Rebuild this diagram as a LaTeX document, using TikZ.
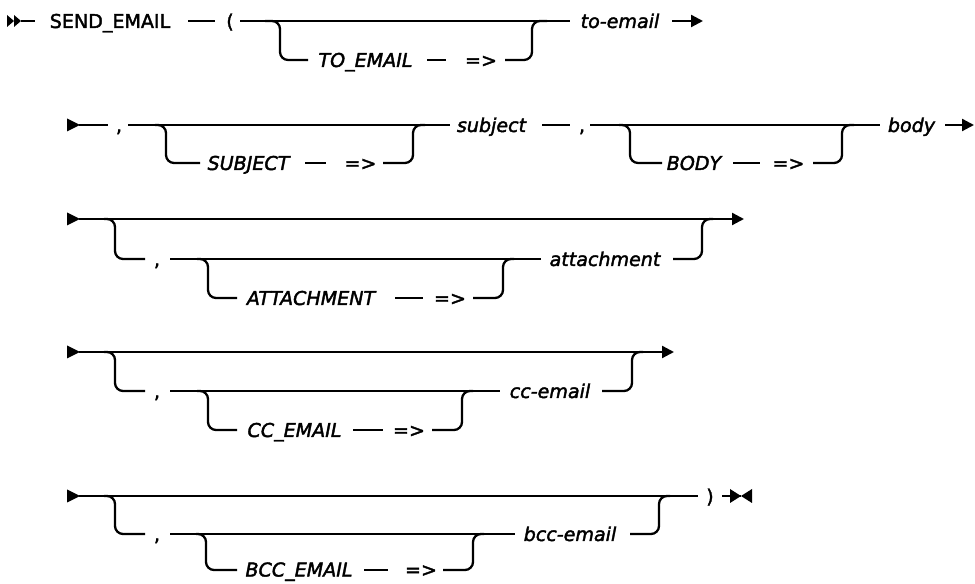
\documentclass[tikz,border=0pt]{standalone}
\usepackage{fontspec}
\setmainfont{DejaVu Sans}[FakeBold=2]
\usetikzlibrary{arrows.meta}
\begin{document}
\begin{tikzpicture}[x=0.75pt,y=-0.75pt,line width=1.7pt,
  font=\fontsize{14.3pt}{17pt}\selectfont,
  tx/.style={anchor=base,inner sep=0pt},
  kw/.style={tx,font=\fontsize{14.3pt}{17pt}\selectfont\itshape},
  br/.style={rounded corners=6pt},
  endarrow/.style={-{Triangle[length=9pt,width=9pt]}}]
\useasboundingbox (0,0) rectangle (975,584);

% ---------------- Row 1 ----------------
\coordinate (r1s) at (7,21);
\coordinate (r1a) at (21,21);   \coordinate (r1b) at (35,21);
\coordinate (r1c) at (188,21);  \coordinate (r1d) at (215,21);
\coordinate (r1e) at (240,21);  \coordinate (r1f) at (570,21);
\coordinate (r1g) at (265,21);  \coordinate (r1h) at (280,21);
\coordinate (r1i) at (280,60);  \coordinate (r1j) at (308,60);
\coordinate (r1k) at (427,60);  \coordinate (r1l) at (446,60);
\coordinate (r1m) at (505,60);  \coordinate (r1n) at (532,60);
\coordinate (r1o) at (532,21);  \coordinate (r1p) at (547,21);
\coordinate (r1q) at (672,21);  \coordinate (r1r) at (703,21);

\fill (r1s) ++(0,-6) -- ++(7,6) -- ++(-7,6) -- cycle;
\fill (r1s) ++(7,-6) -- ++(7,6) -- ++(-7,6) -- cycle;
\draw (r1a) -- (r1b);
\node[tx] (send) at (110,28) {SEND\_EMAIL};
\draw (r1c) -- (r1d);
\node[tx] (lp) at (230,28) {(};
\draw (r1e) -- (r1f);
\draw[br] (r1g) -- (r1h) -- (r1i) -- (r1j);
\node[kw] (toE) at (365.5,67) {TO\_EMAIL};
\draw (r1k) -- (r1l);
\node[tx] (ar1) at (481,67) {=>};
\draw[br] (r1m) -- (r1n) -- (r1o) -- (r1p);
\node[kw] (toemail) at (620,28) {to-email};
\draw[endarrow] (r1q) -- (r1r);

% ---------------- Row 2 ----------------
\coordinate (r2s) at (67,125);
\coordinate (r2a) at (79,125);  \coordinate (r2b) at (108,125);
\coordinate (r2c) at (128,125); \coordinate (r2d) at (450,125);
\coordinate (r2e) at (155,125); \coordinate (r2f) at (166,125);
\coordinate (r2g) at (166,163); \coordinate (r2h) at (200,163);
\coordinate (r2i) at (305,163); \coordinate (r2j) at (326,163);
\coordinate (r2k) at (383,163); \coordinate (r2l) at (413,163);
\coordinate (r2m) at (413,125); \coordinate (r2n) at (425,125);
\coordinate (r2o) at (542,125); \coordinate (r2p) at (570,125);
\coordinate (r2q) at (590,125); \coordinate (r2r) at (880,125);
\coordinate (r2t) at (619,125); \coordinate (r2u) at (630,125);
\coordinate (r2v) at (630,163); \coordinate (r2w) at (662,163);
\coordinate (r2x) at (733,163); \coordinate (r2y) at (760,163);
\coordinate (r2z) at (813,163); \coordinate (r2A) at (842,163);
\coordinate (r2B) at (842,125); \coordinate (r2C) at (854,125);
\coordinate (r2D) at (945,125); \coordinate (r2E) at (974,125);

\fill (r2s) ++(0,-6.5) -- ++(13,6.5) -- ++(-13,6.5) -- cycle;
\draw (r2a) -- (r2b);
\node[tx] (c2a) at (119,132) {,};
\draw (r2c) -- (r2d);
\draw[br] (r2e) -- (r2f) -- (r2g) -- (r2h);
\node[kw] (subK) at (248.5,170) {SUBJECT};
\draw (r2i) -- (r2j);
\node[tx] (ar2a) at (360.5,170) {=>};
\draw[br] (r2k) -- (r2l) -- (r2m) -- (r2n);
\node[kw] (subj) at (491.5,132) {subject};
\draw (r2o) -- (r2p);
\node[tx] (c2b) at (582,132) {,};
\draw (r2q) -- (r2r);
\draw[br] (r2t) -- (r2u) -- (r2v) -- (r2w);
\node[kw] (bodyK) at (694,170) {BODY};
\draw (r2x) -- (r2y);
\node[tx] (ar2b) at (788.5,170) {=>};
\draw[br] (r2z) -- (r2A) -- (r2B) -- (r2C);
\node[kw] (body) at (911.5,132) {body};
\draw[endarrow] (r2D) -- (r2E);

% ---------------- Row 3 ----------------
\coordinate (r3s) at (67,219);
\coordinate (r3a) at (79,219);  \coordinate (r3b) at (744,219);
\coordinate (r3c) at (104,219); \coordinate (r3d) at (115,219);
\coordinate (r3e) at (115,259); \coordinate (r3f) at (145,259);
\coordinate (r3g) at (170,259); \coordinate (r3h) at (541,259);
\coordinate (r3i) at (197,259); \coordinate (r3j) at (208,259);
\coordinate (r3k) at (208,298); \coordinate (r3l) at (237,298);
\coordinate (r3m) at (395,298); \coordinate (r3n) at (423,298);
\coordinate (r3o) at (473,298); \coordinate (r3p) at (503,298);
\coordinate (r3q) at (503,259); \coordinate (r3r) at (514,259);
\coordinate (r3t) at (673,259); \coordinate (r3u) at (702,259);
\coordinate (r3v) at (702,219); \coordinate (r3w) at (713,219);

\fill (r3s) ++(0,-6.5) -- ++(13,6.5) -- ++(-13,6.5) -- cycle;
\draw[endarrow] (r3a) -- (r3b);
\draw[br] (r3c) -- (r3d) -- (r3e) -- (r3f);
\node[tx] (c3) at (157,266) {,};
\draw (r3g) -- (r3h);
\draw[br] (r3i) -- (r3j) -- (r3k) -- (r3l);
\node[kw] (attK) at (311,305) {ATTACHMENT};
\draw (r3m) -- (r3n);
\node[tx] (ar3) at (450,305) {=>};
\draw[br] (r3o) -- (r3p) -- (r3q) -- (r3r);
\node[kw] (att) at (605,266) {attachment};
\draw[br] (r3t) -- (r3u) -- (r3v) -- (r3w);

% ---------------- Row 4 ----------------
\coordinate (r4s) at (67,352);
\coordinate (r4a) at (79,352);  \coordinate (r4b) at (674,352);
\coordinate (r4c) at (104,352); \coordinate (r4d) at (115,352);
\coordinate (r4e) at (115,391); \coordinate (r4f) at (145,391);
\coordinate (r4g) at (170,391); \coordinate (r4h) at (500,391);
\coordinate (r4i) at (197,391); \coordinate (r4j) at (208,391);
\coordinate (r4k) at (208,430); \coordinate (r4l) at (237,430);
\coordinate (r4m) at (353,430); \coordinate (r4n) at (383,430);
\coordinate (r4o) at (432,430); \coordinate (r4p) at (462,430);
\coordinate (r4q) at (462,391); \coordinate (r4r) at (473,391);
\coordinate (r4t) at (602,391); \coordinate (r4u) at (632,391);
\coordinate (r4v) at (632,352); \coordinate (r4w) at (643,352);

\fill (r4s) ++(0,-6.5) -- ++(13,6.5) -- ++(-13,6.5) -- cycle;
\draw[endarrow] (r4a) -- (r4b);
\draw[br] (r4c) -- (r4d) -- (r4e) -- (r4f);
\node[tx] (c4) at (157,398) {,};
\draw (r4g) -- (r4h);
\draw[br] (r4i) -- (r4j) -- (r4k) -- (r4l);
\node[kw] (ccK) at (294.5,437) {CC\_EMAIL};
\draw (r4m) -- (r4n);
\node[tx] (ar4) at (409,437) {=>};
\draw[br] (r4o) -- (r4p) -- (r4q) -- (r4r);
\node[kw] (cc) at (550,398) {cc-email};
\draw[br] (r4t) -- (r4u) -- (r4v) -- (r4w);

% ---------------- Row 5 ----------------
\coordinate (r5s) at (67,496);
\coordinate (r5a) at (79,496);  \coordinate (r5b) at (698,496);
\coordinate (r5c) at (104,496); \coordinate (r5d) at (115,496);
\coordinate (r5e) at (115,534); \coordinate (r5f) at (145,534);
\coordinate (r5g) at (170,534); \coordinate (r5h) at (515,534);
\coordinate (r5i) at (196,534); \coordinate (r5j) at (206,534);
\coordinate (r5k) at (206,570); \coordinate (r5l) at (237,570);
\coordinate (r5m) at (364,570); \coordinate (r5n) at (388,570);
\coordinate (r5o) at (443,570); \coordinate (r5p) at (473,570);
\coordinate (r5q) at (473,534); \coordinate (r5r) at (484,534);
\coordinate (r5t) at (630,534); \coordinate (r5u) at (659,534);
\coordinate (r5v) at (659,496); \coordinate (r5w) at (670,496);
\coordinate (r5x) at (722,496); \coordinate (r5y) at (741,496);

\fill (r5s) ++(0,-6.5) -- ++(13,6.5) -- ++(-13,6.5) -- cycle;
\draw (r5a) -- (r5b);
\draw[br] (r5c) -- (r5d) -- (r5e) -- (r5f);
\node[tx] (c5) at (157,541) {,};
\draw (r5g) -- (r5h);
\draw[br] (r5i) -- (r5j) -- (r5k) -- (r5l);
\node[kw] (bccK) at (299,576.5) {BCC\_EMAIL};
\draw (r5m) -- (r5n);
\node[tx] (ar5) at (421,576.5) {=>};
\draw[br] (r5o) -- (r5p) -- (r5q) -- (r5r);
\node[kw] (bcc) at (570,541) {bcc-email};
\draw[br] (r5t) -- (r5u) -- (r5v) -- (r5w);
\node[tx] (rp) at (710,503) {)};
\draw (r5x) -- (r5y);
\fill (r5y) ++(-11,-7) -- (r5y) -- ++(-11,7) -- cycle;
\fill (r5y) ++(11,-7) -- (r5y) -- ++(11,7) -- cycle;
\end{tikzpicture}
\end{document}
